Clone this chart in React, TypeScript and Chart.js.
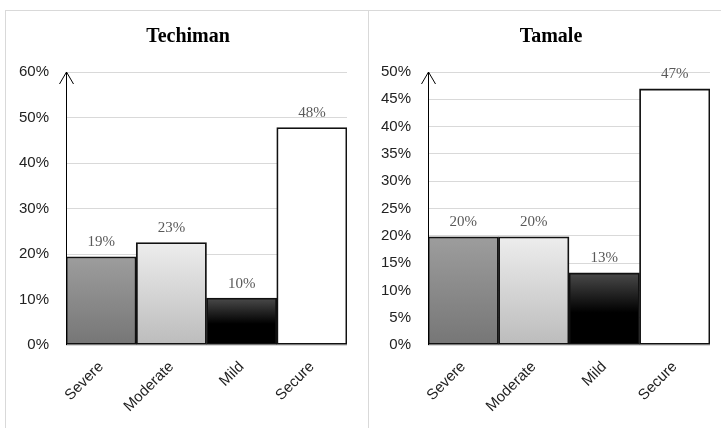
import React, { useEffect, useRef } from "react";
import { Chart, registerables } from "chart.js";

Chart.register(...registerables);

const categories = ["Severe", "Moderate", "Mild", "Secure"];
const techimanValues = [19.4, 22.5, 10.3, 47.8];
const tamaleValues = [19.8, 19.8, 13.2, 46.9];
const techimanTicks = { max: 60, step: 10 };
const tamaleTicks = { max: 50, step: 5 };

const gradientStops: [number, string][][] = [
  [[0, "#9d9d9d"], [1, "#767676"]],
  [[0, "#ededed"], [1, "#bcbcbc"]],
  [[0, "#4a4a4a"], [0.55, "#000000"], [1, "#000000"]],
  [[0, "#ffffff"], [1, "#ffffff"]],
];
const flatColors = ["#8a8a8a", "#d5d5d5", "#1a1a1a", "#ffffff"];

const valueLabelPlugin = {
  id: "valueLabels",
  afterDatasetsDraw(chart: any) {
    const ctx = chart.ctx;
    const meta = chart.getDatasetMeta(0);
    const data = chart.data.datasets[0].data as number[];
    ctx.save();
    ctx.font = "15px 'Liberation Serif'";
    ctx.fillStyle = "#595959";
    ctx.textAlign = "center";
    ctx.textBaseline = "bottom";
    meta.data.forEach((bar: any, i: number) => {
      ctx.fillText(Math.round(data[i]) + "%", bar.x, bar.y - 7);
    });
    ctx.restore();
  },
};

const axisArrowPlugin = {
  id: "axisArrow",
  afterDraw(chart: any) {
    const { ctx, chartArea } = chart;
    const x = Math.round(chartArea.left) + 0.5;
    ctx.save();
    ctx.strokeStyle = "#000";
    ctx.lineWidth = 1;
    ctx.beginPath();
    ctx.moveTo(x, chartArea.bottom);
    ctx.lineTo(x, chartArea.top);
    ctx.moveTo(x - 7, chartArea.top + 12);
    ctx.lineTo(x, chartArea.top);
    ctx.lineTo(x + 7, chartArea.top + 12);
    ctx.stroke();
    ctx.restore();
  },
};

const panelTitlePlugin = {
  id: "panelTitle",
  afterDraw(chart: any, _args: any, opts: any) {
    const ctx = chart.ctx;
    ctx.save();
    ctx.font = "bold 20px 'Liberation Serif'";
    ctx.fillStyle = "#000";
    ctx.textAlign = "center";
    ctx.textBaseline = "middle";
    ctx.fillText(opts.text, opts.x, opts.y);
    ctx.restore();
  },
};

type PanelProps = {
  title: string;
  values: number[];
  max: number;
  step: number;
  width: number;
  height: number;
  yWidth: number;
  rightPad: number;
  titleX: number;
};

function Panel({ title, values, max, step, width, height, yWidth, rightPad, titleX }: PanelProps) {
  const ref = useRef<HTMLCanvasElement | null>(null);
  useEffect(() => {
    if (!ref.current) return;
    const chart = new Chart(ref.current, {
      type: "bar",
      data: {
        labels: categories,
        datasets: [
          {
            data: values,
            backgroundColor: (c: any) => {
              const chart = c.chart;
              const yScale = chart.scales?.y;
              const idx = c.dataIndex;
              if (idx === undefined || idx === null) return "#ccc";
              if (!yScale || !chart.chartArea) return flatColors[idx];
              const top = yScale.getPixelForValue(values[idx]);
              const bottom = yScale.getPixelForValue(0);
              if (!isFinite(top) || !isFinite(bottom) || top === bottom) return flatColors[idx];
              const g = chart.ctx.createLinearGradient(0, top, 0, bottom);
              gradientStops[idx].forEach(([o, col]) => g.addColorStop(o, col));
              return g;
            },
            borderColor: "#111",
            borderWidth: 1.8,
            borderSkipped: false,
            categoryPercentage: 1,
            barPercentage: 1,
          },
        ],
      },
      options: {
        animation: false,
        responsive: false,
        layout: { padding: { left: 0, right: rightPad, top: 62, bottom: 0 } },
        plugins: {
          legend: { display: false },
          tooltip: { enabled: false },
          title: { display: false },
          panelTitle: { text: title, x: titleX, y: 27 },
        } as any,
        scales: {
          x: {
            grid: { display: false, drawTicks: false },
            border: { display: false },
            ticks: {
              color: "#222",
              font: { family: "Liberation Sans", size: 15 },
              minRotation: 45,
              maxRotation: 45,
              padding: 13,
            },
            afterFit: (s: any) => {
              s.height = 83;
            },
          },
          y: {
            min: 0,
            max,
            grid: { color: "#d9d9d9", drawTicks: false, lineWidth: 1 },
            border: { display: false },
            ticks: {
              stepSize: step,
              color: "#222",
              font: { family: "Liberation Sans", size: 15 },
              padding: 17,
              callback: (v: any) => v + "%",
            },
            afterFit: (s: any) => {
              s.width = yWidth;
            },
          },
        },
      },
      plugins: [valueLabelPlugin, axisArrowPlugin, panelTitlePlugin],
    });
    return () => chart.destroy();
  }, []);
  return <canvas ref={ref} width={width} height={height} style={{ width, height, display: "block" }} />;
}

export default function App() {
  return (
    <div
      style={{
        position: "absolute",
        left: 0,
        top: 0,
        width: 721,
        height: 428,
        overflow: "hidden",
        background: "#fff",
      }}
    >
      <div
        style={{
          position: "absolute",
          left: 5,
          top: 10,
          width: 364,
          height: 440,
          border: "1px solid #d9d9d9",
          boxSizing: "border-box",
        }}
      />
      <div
        style={{
          position: "absolute",
          left: 368,
          top: 10,
          width: 370,
          height: 440,
          border: "1px solid #d9d9d9",
          boxSizing: "border-box",
        }}
      />
      <div style={{ position: "absolute", left: 5, top: 10 }}>
        <Panel
          title="Techiman"
          values={techimanValues}
          max={techimanTicks.max}
          step={techimanTicks.step}
          width={363}
          height={418}
          yWidth={61}
          rightPad={21}
          titleX={183}
        />
      </div>
      <div style={{ position: "absolute", left: 369, top: 10 }}>
        <Panel
          title="Tamale"
          values={tamaleValues}
          max={tamaleTicks.max}
          step={tamaleTicks.step}
          width={352}
          height={418}
          yWidth={59}
          rightPad={11}
          titleX={182}
        />
      </div>
    </div>
  );
}
